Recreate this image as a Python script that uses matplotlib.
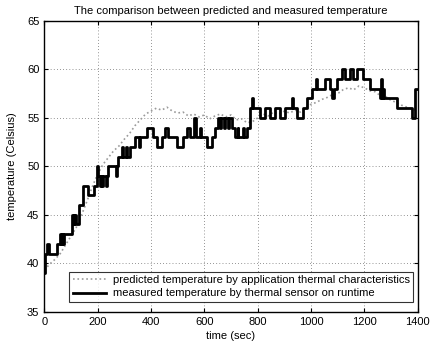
import numpy as np
import matplotlib
matplotlib.use("Agg")
import matplotlib.pyplot as plt

plt.rcParams['font.family'] = ['Liberation Sans', 'DejaVu Sans']
plt.rcParams['font.size'] = 8

# predicted temperature, sampled every 20 s
pred_t = np.arange(0, 1401, 20)
pred_v = [39.3, 39.9, 40.4, 41.0, 41.9, 42.8, 43.7, 45.0, 46.4, 47.9,
          49.2, 50.2, 50.9, 51.6, 52.1, 52.8, 53.4, 54.2, 54.8, 55.4,
          55.7, 56.0, 55.8, 56.1, 55.7, 55.5, 55.6, 55.2, 55.4, 55.1,
          55.3, 54.9, 55.2, 55.4, 55.1, 55.3, 54.8, 54.9, 54.5, 54.6,
          55.0, 55.4, 55.2, 55.6, 55.4, 55.7, 55.5, 55.8, 55.6, 56.1,
          56.4, 56.6, 56.9, 57.1, 57.4, 57.5, 57.9, 58.1, 57.9, 58.3,
          58.1, 57.8, 57.7, 57.3, 57.2, 56.8, 56.6, 56.3, 56.1, 55.9,
          55.7]

# measured temperature (sensor), step changes
meas_t = [0, 3, 12, 16, 48, 60, 63, 66, 69, 72, 104, 110, 113, 117, 130,
          145, 164, 186, 198, 202, 207, 211, 216, 220, 230, 234, 239, 270,
          274, 278, 291, 296, 305, 310, 322, 340, 355, 359, 385, 408, 423,
          441, 452, 463, 497, 520, 535, 546, 563, 567, 585, 588, 610, 629,
          640, 651, 660, 663, 675, 678, 690, 693, 704, 715, 725, 728, 745,
          748, 760, 771, 780, 784, 808, 827, 846, 865, 884, 902, 927, 931,
          947, 970, 985, 1004, 1020, 1024, 1052, 1071, 1080, 1085, 1097,
          1116, 1127, 1146, 1157, 1172, 1195, 1221, 1258, 1263, 1267, 1270,
          1274, 1322, 1378, 1390, 1400]
meas_v = [39, 41, 42, 41, 42, 43, 42, 43, 42, 43, 45, 44, 45, 44, 46,
          48, 47, 48, 50, 49, 48, 49, 48, 49, 48, 49, 50, 49,
          50, 51, 52, 51, 52, 51, 52, 53, 52, 53, 54, 53, 52,
          53, 54, 53, 52, 53, 54, 53, 55, 53, 54, 53, 52, 53,
          54, 55, 54, 55, 54, 55, 54, 55, 54, 53, 54, 53, 54,
          53, 54, 56, 57, 56, 55, 56, 55, 56, 55, 56, 57, 56,
          55, 56, 57, 58, 59, 58, 59, 58, 57, 58, 59,
          60, 59, 60, 59, 60, 59, 58, 57, 59, 57, 58,
          57, 56, 55, 58, 58]

fig = plt.figure(figsize=(4.33, 3.49), dpi=100)
ax = fig.add_axes([0.1023, 0.1069, 0.8624, 0.833])

ax.plot(pred_t, pred_v, color='#9a9a9a', linestyle=':', linewidth=1.2,
        label='predicted temperature by application thermal characteristics')
ax.plot(meas_t, meas_v, color='black', linewidth=2, drawstyle='steps-post',
        label='measured temperature by thermal sensor on runtime')

ax.set_xlim(0, 1400)
ax.set_ylim(35, 65)
ax.set_xticks(np.arange(0, 1401, 200))
ax.set_yticks(np.arange(35, 66, 5))
ax.grid(True, color='#333333', linestyle=(0, (1, 3.5)), linewidth=0.5)
ax.tick_params(direction='in', top=True, right=True, length=3, labelsize=8)
for s in ax.spines.values():
    s.set_linewidth(1)

ax.set_title('The comparison between predicted and measured temperature',
             fontsize=8, pad=5)
ax.set_xlabel('time (sec)', labelpad=3)
ax.set_ylabel('temperature (Celsius)', labelpad=7)

leg = ax.legend(loc='lower right', bbox_to_anchor=(0.987, 0.034),
                borderaxespad=0, fancybox=False, handlelength=3,
                handletextpad=0.6, borderpad=0.3, labelspacing=0.3,
                fontsize=8)
leg.get_frame().set_edgecolor('black')
leg.get_frame().set_linewidth(0.8)

fig.savefig('out.png', dpi=100)
